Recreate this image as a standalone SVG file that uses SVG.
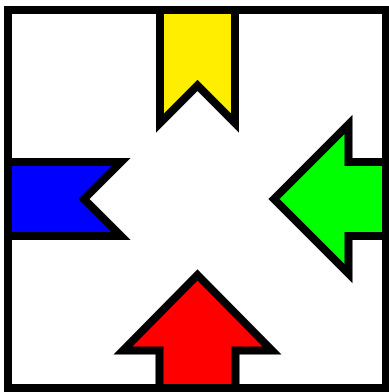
<svg xmlns="http://www.w3.org/2000/svg" width="389" height="392" viewBox="0 0 389 392">
<style>
.s{stroke:#000;stroke-width:8;stroke-linejoin:miter;stroke-miterlimit:4}
</style>
<rect x="0" y="0" width="389" height="392" fill="#fff"/>
<g id="frame"><rect class="s" x="8" y="10" width="378" height="378" fill="#fff"/></g>
<g id="yellow"><polygon class="s" fill="#ffee00" points="160,10 235,10 235,123 197.5,85.5 160,123"/></g>
<g id="blue"><polygon class="s" fill="#0000ff" points="8,162 121,162 84,199 121,236 8,236"/></g>
<g id="green"><polygon class="s" fill="#00ff00" points="274,199 348.5,124.5 348.5,162 386,162 386,236 348.5,236 348.5,273.5"/></g>
<g id="red"><polygon class="s" fill="#ff0000" points="197.5,275 272,350.5 235.5,350.5 235.5,388 159.5,388 159.5,350.5 123,350.5"/></g>
</svg>
